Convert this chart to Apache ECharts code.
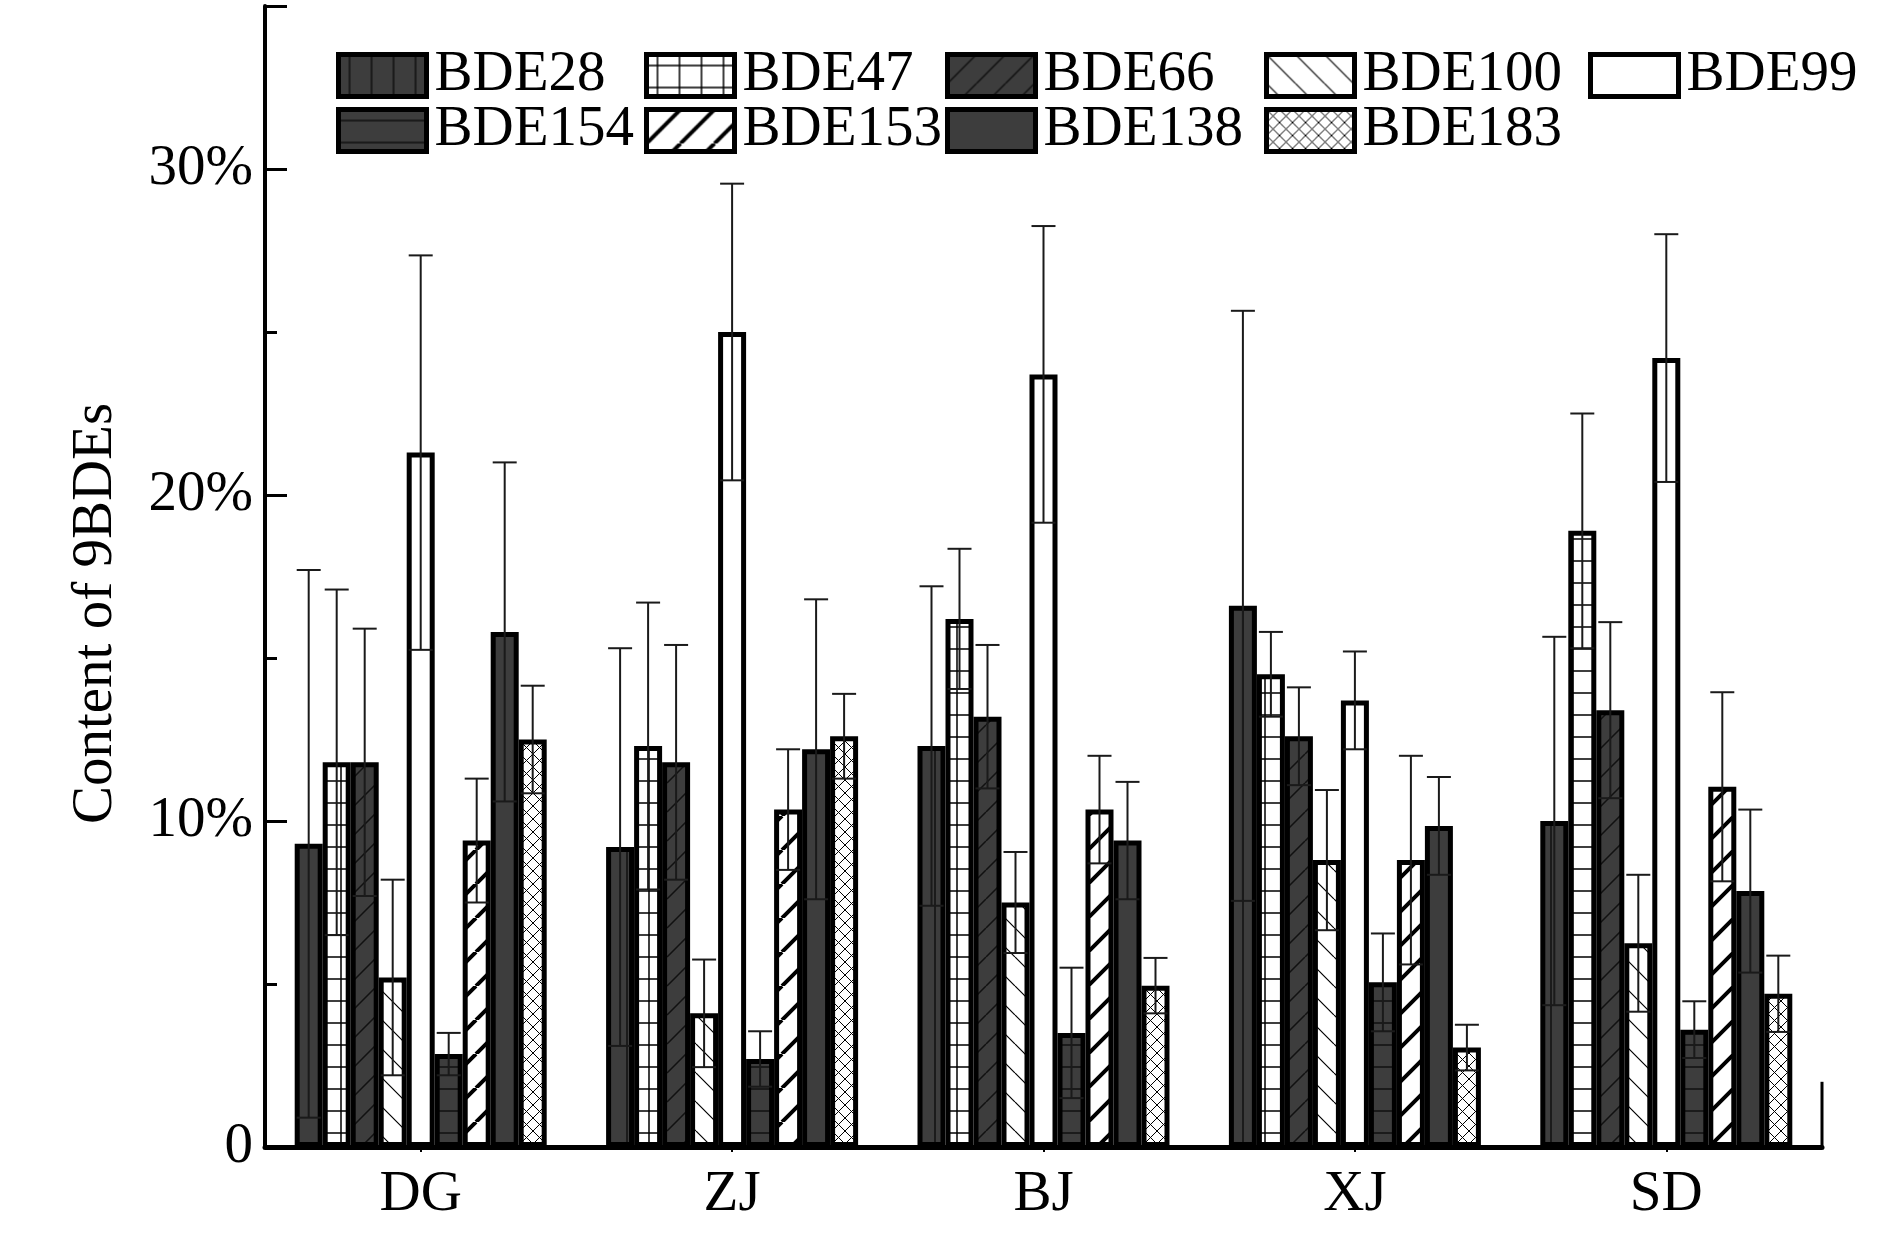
<!DOCTYPE html>
<html>
<head>
<meta charset="utf-8">
<title>Content of 9BDEs</title>
<script src="https://cdn.jsdelivr.net/npm/echarts@6/dist/echarts.min.js"></script>
<style>
  html, body { margin: 0; padding: 0; background: #fff; }
  #chart { width: 1890px; height: 1239px; }
</style>
</head>
<body>
<div id="chart"></div>
<script>
'use strict'

// sites on the x axis
var sites = ['DG', 'ZJ', 'BJ', 'XJ', 'SD'];
var congeners = ['BDE28', 'BDE47', 'BDE66', 'BDE100', 'BDE99', 'BDE154', 'BDE153', 'BDE138', 'BDE183'];

// mean content (%) per congener, order DG ZJ BJ XJ SD
var bde28  = [9.3, 9.2, 12.3, 16.6, 10.0];
var bde47  = [11.8, 12.3, 16.2, 14.5, 18.9];
var bde66  = [11.8, 11.8, 13.2, 12.6, 13.4];
var bde100 = [5.2, 4.1, 7.5, 8.8, 6.25];
var bde99  = [21.3, 25.0, 23.7, 13.7, 24.2];
var bde154 = [2.85, 2.7, 3.5, 5.05, 3.6];
var bde153 = [9.4, 10.35, 10.35, 8.8, 11.05];
var bde138 = [15.8, 12.2, 9.4, 9.85, 7.85];
var bde183 = [12.5, 12.6, 4.95, 3.05, 4.7];

// error bar half-lengths (%)
var bde28Err  = [8.4, 6.1, 4.9, 9.05, 5.65];
var bde47Err  = [5.3, 4.4, 2.15, 1.3, 3.6];
var bde66Err  = [4.1, 3.6, 2.2, 1.5, 2.7];
var bde100Err = [3.0, 1.65, 1.55, 2.15, 2.1];
var bde99Err  = [6.05, 4.55, 4.55, 1.5, 3.8];
var bde154Err = [0.65, 0.85, 2.0, 1.5, 0.87];
var bde153Err = [1.9, 1.85, 1.65, 3.2, 2.9];
var bde138Err = [5.2, 4.6, 1.8, 1.5, 2.5];
var bde183Err = [1.65, 1.3, 0.85, 0.7, 1.17];

var means = [bde28, bde47, bde66, bde100, bde99, bde154, bde153, bde138, bde183];
var errs = [bde28Err, bde47Err, bde66Err, bde100Err, bde99Err, bde154Err, bde153Err, bde138Err, bde183Err];

var FONT = '"Liberation Serif", "Times New Roman", serif';
var DARK = '#3d3d3d';
var BAR_W = 28;

/*-----fill patterns-----*/
function tile(w, h, bg, draw) {
  var c = document.createElement('canvas');
  c.width = w; c.height = h;
  var ctx = c.getContext('2d');
  ctx.fillStyle = bg;
  ctx.fillRect(0, 0, w, h);
  ctx.strokeStyle = '#000';
  draw(ctx, w, h);
  return { image: c, repeat: 'repeat' };
}
function lines(ctx, pts, lw, color) {
  ctx.lineWidth = lw;
  if (color) ctx.strokeStyle = color;
  ctx.beginPath();
  pts.forEach(function (p) { ctx.moveTo(p[0], p[1]); ctx.lineTo(p[2], p[3]); });
  ctx.stroke();
}
function slash(s) { return [[-s, s, 0, 0], [0, s, s, 0], [s, s, 2 * s, 0]]; }
function backslash(s) { return [[-s, 0, 0, s], [0, 0, s, s], [s, 0, 2 * s, s]]; }

var fills = [
  tile(22, 22, DARK, function (c) { lines(c, [[11, 0, 11, 22]], 1.5, '#111'); }),
  tile(22, 22, '#fff', function (c) { lines(c, [[11, 0, 11, 22], [0, 11, 22, 11]], 1.5); }),
  tile(29, 29, DARK, function (c, s) { lines(c, slash(s), 1.5, '#111'); }),
  tile(29, 29, '#fff', function (c, s) { lines(c, backslash(s), 1.2); }),
  '#fff',
  tile(22, 22, DARK, function (c) { lines(c, [[0, 11, 22, 11]], 1.5, '#111'); }),
  tile(34, 34, '#fff', function (c, s) { lines(c, slash(s), 4); }),
  DARK,
  tile(13, 13, '#fff', function (c, s) { lines(c, slash(s).concat(backslash(s)), 1); })
];

/*-----series-----*/
var barSeries = congeners.map(function (name, i) {
  return {
    name: name,
    type: 'bar',
    barWidth: BAR_W,
    barGap: '0%',
    data: means[i],
    itemStyle: { color: fills[i], borderColor: '#000', borderWidth: 5 }
  };
});

var errData = [];
congeners.forEach(function (name, i) {
  sites.forEach(function (s, j) {
    errData.push([j, means[i][j], errs[i][j], i]);
  });
});

var errSeries = {
  type: 'custom',
  z: 5,
  silent: true,
  data: errData,
  encode: { x: 0, y: 1 },
  renderItem: function (params, api) {
    var j = api.value(0), m = api.value(1), e = api.value(2), i = api.value(3);
    var off = (i - (congeners.length - 1) / 2) * BAR_W;
    var top = api.coord([j, m + e]);
    var bot = api.coord([j, Math.max(m - e, 0)]);
    var x = top[0] + off;
    var half = 12;
    var st = { stroke: '#1a1a1a', lineWidth: 2 };
    return {
      type: 'group',
      children: [
        { type: 'line', shape: { x1: x, y1: top[1], x2: x, y2: bot[1] }, style: st },
        { type: 'line', shape: { x1: x - half, y1: top[1], x2: x + half, y2: top[1] }, style: st },
        { type: 'line', shape: { x1: x - half, y1: bot[1], x2: x + half, y2: bot[1] }, style: st }
      ]
    };
  }
};

/*-----legends: one per item, laid out on a fixed grid-----*/
var legendCols = [336, 644, 945, 1264, 1588];
var legendRows = [47, 102];
var legends = congeners.map(function (name, i) {
  return {
    data: [name],
    left: legendCols[i % 5],
    top: legendRows[Math.floor(i / 5)],
    padding: 0,
    itemWidth: 88,
    itemHeight: 42,
    selectedMode: false,
    icon: 'rect',
    itemStyle: { borderColor: '#000', borderWidth: 5 },
    textStyle: { fontFamily: FONT, fontSize: 57, color: '#000', lineHeight: 42, padding: [0, 0, 0, 3] }
  };
});

var chart = echarts.init(document.getElementById('chart'));
var gridRight = 68;

var option = {
  animation: false,
  backgroundColor: '#fff',
  grid: { left: 265, right: gridRight, top: 6, bottom: 92 },
  legend: legends,
  xAxis: {
    type: 'category',
    data: sites,
    axisLine: { lineStyle: { color: '#000', width: 5 } },
    axisTick: { show: true, alignWithLabel: true, length: 5, lineStyle: { color: '#000', width: 2 } },
    axisLabel: { fontFamily: FONT, fontSize: 57, color: '#000', margin: 20 }
  },
  yAxis: [
    {
      type: 'value',
      min: 0,
      max: 35,
      interval: 5,
      name: 'Content of 9BDEs',
      nameLocation: 'middle',
      nameGap: 140,
      nameTextStyle: { fontFamily: FONT, fontSize: 57, color: '#000', padding: [0, 74, 0, 0] },
      axisLine: { show: true, lineStyle: { color: '#000', width: 4 } },
      axisTick: { show: true, inside: true, length: 12, lineStyle: { color: '#000', width: 3 } },
      axisLabel: {
        fontFamily: FONT, fontSize: 57, color: '#000', margin: 12,
        formatter: function (v) { return v % 10 !== 0 ? '' : (v === 0 ? '0' : v + '%'); }
      },
      splitLine: { show: false }
    },
    {
      type: 'value',
      position: 'left',
      min: 0,
      max: 35,
      interval: 10,
      axisLine: { show: false },
      axisTick: { show: true, inside: true, length: 22, lineStyle: { color: '#000', width: 3 } },
      axisLabel: { show: false },
      splitLine: { show: false }
    }
  ],
  series: barSeries.concat([errSeries])
};
chart.setOption(option);

// short right-hand frame stub at the end of the x axis
var y0 = chart.convertToPixel({ yAxisIndex: 0 }, 0);
var y2 = chart.convertToPixel({ yAxisIndex: 0 }, 2);
var xr = chart.getWidth() - gridRight;
chart.setOption({
  graphic: [{
    type: 'line',
    shape: { x1: xr, y1: y0, x2: xr, y2: y2 },
    style: { stroke: '#000', lineWidth: 3 }
  }]
});
</script>
</body>
</html>
